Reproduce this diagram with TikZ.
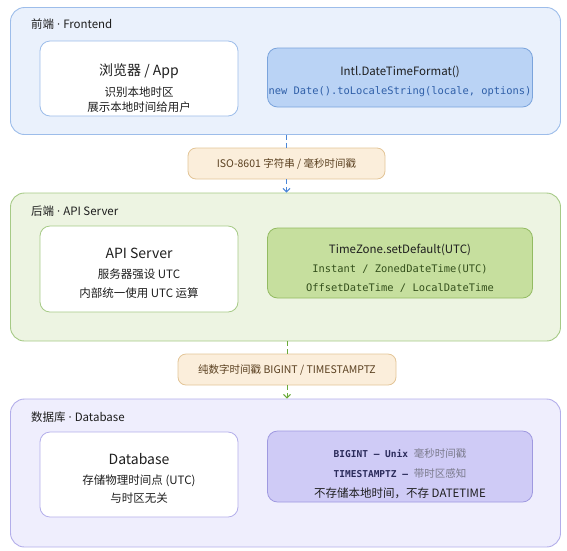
\documentclass[tikz,border=0pt]{standalone}
\usepackage{fontspec}
\setmainfont{Noto Sans CJK SC}
\setmonofont{DejaVu Sans Mono}
\newfontfamily\latinfont{Noto Sans}
\usetikzlibrary{arrows.meta}
\definecolor{feFill}{HTML}{EAF1FC}
\definecolor{feLine}{HTML}{9DBDEA}
\definecolor{feBox}{HTML}{BAD3F5}
\definecolor{feBoxLine}{HTML}{7BA4DC}
\definecolor{feCode}{HTML}{2F5FA8}
\definecolor{feArrow}{HTML}{4A86D8}
\definecolor{beFill}{HTML}{EDF4E2}
\definecolor{beLine}{HTML}{A6CA86}
\definecolor{beBox}{HTML}{C6DF9E}
\definecolor{beBoxLine}{HTML}{93BB62}
\definecolor{beCode}{HTML}{34501C}
\definecolor{beArrow}{HTML}{6AAA3A}
\definecolor{dbFill}{HTML}{EFEEFD}
\definecolor{dbLine}{HTML}{B3AEEA}
\definecolor{dbBox}{HTML}{CFCBF6}
\definecolor{dbBoxLine}{HTML}{9F99E0}
\definecolor{dbCode}{HTML}{2B2B5B}
\definecolor{dbGray}{HTML}{7A7A8C}
\definecolor{labFill}{HTML}{FBEEDB}
\definecolor{labLine}{HTML}{E3C597}
\definecolor{labText}{HTML}{5A4020}
\definecolor{txt}{HTML}{1E1E1E}
\tikzset{
  container/.style={draw, line width=0.9pt, rounded corners=14pt, inner sep=0pt},
  whitebox/.style={draw, fill=white, line width=0.8pt, rounded corners=10pt, inner sep=0pt},
  colbox/.style={draw, line width=0.8pt, rounded corners=10pt, inner sep=0pt},
  labbox/.style={draw=labLine, fill=labFill, line width=0.8pt, rounded corners=8pt, inner sep=0pt, text=labText, font=\fontsize{10.5}{12}\selectfont},
  ctitle/.style={anchor=west, inner sep=0pt, text=txt, font=\fontsize{11.5}{13}\selectfont},
  btitle/.style={inner sep=0pt, text=txt, font=\fontsize{14}{16}\selectfont},
  btext/.style={inner sep=0pt, text=txt, font=\fontsize{11.5}{13}\selectfont},
  mtitle/.style={inner sep=0pt, text=txt, font=\fontsize{11.5}{13}\selectfont},
  code/.style={inner sep=0pt, font=\ttfamily\fontsize{10.4}{12}\selectfont},
  conn/.style={line width=1pt, dash pattern=on 5pt off 3pt},
  tip/.style={-{Straight Barb[length=3.5pt,width=7pt]}}
}
\begin{document}
\begin{tikzpicture}[x=1pt,y=-1pt]
\useasboundingbox (0,0) rectangle (567,550);
% containers
\node[container, draw=feLine, fill=feFill, minimum width=550pt, minimum height=127pt] (front) at (285.5,71) {};
\node[container, draw=beLine, fill=beFill, minimum width=550pt, minimum height=148pt] (back) at (285.5,267) {};
\node[container, draw=dbLine, fill=dbFill, minimum width=550pt, minimum height=148pt] (db) at (285.5,473) {};
\node[ctitle] (fetitle) at (31,24) {前端{\latinfont{} · }Frontend};
\node[ctitle] (betitle) at (31,211) {后端{\latinfont{} · }API Server};
\node[ctitle] (dbtitle) at (31,417) {数据库{\latinfont{} · }Database};
% frontend boxes
\node[whitebox, draw=feLine, minimum width=198pt, minimum height=75pt] (browser) at (139,78.5) {};
\node[btitle] (browserT) at (139,71) {浏览器 / App};
\node[btext] (browserA) at (139,92) {识别本地时区};
\node[btext] (browserB) at (139,107) {展示本地时间给用户};
\node[colbox, draw=feBoxLine, fill=feBox, minimum width=265pt, minimum height=59pt] (intl) at (400,77.5) {};
\node[mtitle] (intlT) at (400,72) {Intl.DateTimeFormat()};
\node[code, text=feCode] (intlA) at (400,92) {new Date().toLocaleString(locale, options)};
% backend boxes
\node[whitebox, draw=beLine, minimum width=198pt, minimum height=86pt] (api) at (139,269) {};
\node[btitle] (apiT) at (139,253) {API Server};
\node[btext] (apiA) at (139,274) {服务器强设 UTC};
\node[btext] (apiB) at (139,293) {内部统一使用 UTC 运算};
\node[colbox, draw=beBoxLine, fill=beBox, minimum width=265pt, minimum height=70pt] (tz) at (400,263) {};
\node[mtitle] (tzT) at (400,250) {TimeZone.setDefault(UTC)};
\node[code, text=beCode] (tzA) at (400,269) {Instant / ZonedDateTime(UTC)};
\node[code, text=beCode] (tzB) at (400,288) {OffsetDateTime / LocalDateTime};
% database boxes
\node[whitebox, draw=dbLine, minimum width=198pt, minimum height=85pt] (dbbox) at (139,474.5) {};
\node[btitle] (dbT) at (139,459) {Database};
\node[btext] (dbA) at (139,481) {存储物理时间点 (UTC)};
\node[btext] (dbB) at (139,498) {与时区无关};
\node[colbox, draw=dbBoxLine, fill=dbBox, minimum width=265pt, minimum height=71pt] (stor) at (400,466.5) {};
\node[inner sep=0pt] (storA) at (400,453) {\ttfamily\bfseries\fontsize{9.5}{11}\selectfont\color{dbCode}BIGINT — Unix {\rmfamily\mdseries\fontsize{10.5}{12}\selectfont\color{dbGray} 毫秒时间戳}};
\node[inner sep=0pt] (storB) at (400,473) {\ttfamily\bfseries\fontsize{9.5}{11}\selectfont\color{dbCode}TIMESTAMPTZ — {\rmfamily\mdseries\fontsize{10.5}{12}\selectfont\color{dbGray} 带时区感知}};
\node[btext] (storC) at (400,493) {不存储本地时间，不存 DATETIME};
% labels
\node[labbox, minimum width=197pt, minimum height=31pt] (lab1) at (286.5,163.5) {ISO-8601 字符串 / 毫秒时间戳};
\node[labbox, minimum width=218pt, minimum height=31pt] (lab2) at (287,369.5) {纯数字时间戳 BIGINT / TIMESTAMPTZ};
% connectors
\draw[conn, draw=feArrow] (lab1.north |- front.south) -- (lab1.north);
\draw[conn, draw=feArrow, tip] (lab1.south) -- (lab1.south |- back.north);
\draw[conn, draw=beArrow] (lab2.north |- back.south) -- (lab2.north);
\draw[conn, draw=beArrow, tip] (lab2.south) -- (lab2.south |- db.north);
\end{tikzpicture}
\end{document}
